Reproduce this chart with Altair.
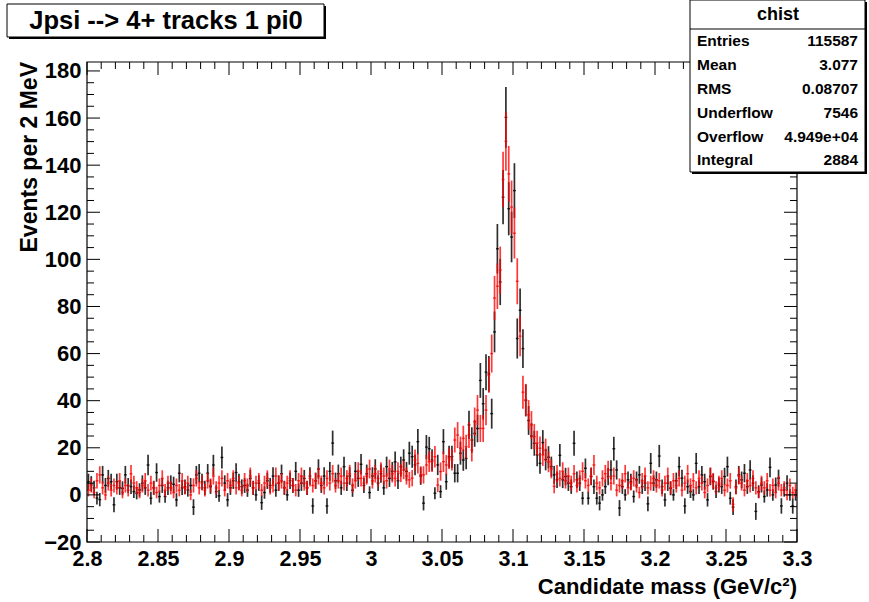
import altair as alt
import pandas as pd
import numpy as np

# ---- data (250 bins of 2 MeV, 2.80 - 3.30 GeV) ----
black_vals = [
    5.6, 4.7, 3, -1.4, -2, 8.5, 4, 7, 5.6, -4.2,
    5.6, 3, 2.8, 8.5, 4, 3.5, 1.4, 0.7, 2.1, 5,
    3, 12.7, -1.4, 3, 9.5, -0.7, 4, -0.7, 3, 5,
    4.5, -2.1, 9.2, 3, 3.5, 2.1, 4, -5.2, 8.5, 9.2,
    5.6, 3, 9.2, 3.5, 12.7, 1.4, -0.4, 15.9, 5, -2.1,
    3, 6, 9.5, 5.6, 3.5, 4, 2, 7, 3, 0,
    5, -3.3, 1, 6, 4, 8, 2, 5, 9, 3,
    0, 6, 4, 10, 2, 5, 7, 3, 8, -4.7,
    6, 11, 4, 8, -4.7, 10, 22, 6, 9, 3,
    12, 5, 8, 2, 10, 7, 13, 4, 9, 1,
    8, 11, 5, 9, 3, 12, 7, 10, 14, 6,
    12, 14.8, 10, 17.7, 16.2, 12.7, 22.6, 8, -3.5, 20.3,
    19.6, 14.8, 0.7, 12.7, 1.4, 22.6, 5.6, 16.2, 16.2, 9.2,
    9.2, 17.7, 14.8, 15.5, 29.7, 23.3, 26.1, 28.2, 48.6, 38.7,
    52.1, 51.4, 34.5, 69.2, 104.5, 90.4, 126.4, 160.3, 121.5, 109.5,
    129.2, 66.4, 78.4, 62.1, 40.1, 31.6, 25, 21.9, 17, 13.4,
    22.2, 15, 16, 12, 8.5, 6.4, 16.8, 6.4, 7.8, 5,
    3.5, 21.9, 6.4, 5, -1.4, 11.3, -1.4, 7.8, 3.5, -1.4,
    -3.5, 0, 3.5, 7.8, 10.6, 19.6, 10.6, -5.6, 3.5, 0,
    6.4, 5.6, -0.7, 6.4, 8.5, 3.5, 5, -3.8, 13.4, 5,
    6.4, 16.5, 3.5, -2.1, 5, 2.8, 0, 6, 12, 7.1,
    -4.7, 3.5, 1.4, 0, 13.4, 3.5, 8.5, 5.6, -2.1, 7.8,
    5.6, 1.4, 4.2, 3.5, 7.8, 12, -1.4, -5.2, 3.5, 8.5,
    6.4, 9.2, 3.5, 10.6, 5, -7, 1.4, 4.2, -0.7, 2.1,
    11.7, 0, 4.2, 7.1, -4.7, 2.1, 5, 0, -4.7, 0,
]
red_vals = [
    2, 4, 1, 6, 8.5, 3, 0, 5, 2, 4,
    3, 6, 1, 4, 2, 9, 5, 3, 1, 4,
    6, 2, 5, 3, 1, 4, 7, 2, 5, 3,
    1, 4, 2, 6, 3, 5, 0, 4, 7, 3,
    5, 2, 6, 4, 8, 3, 5, 7, 2, 6,
    4, 7, 3, 5, 2, 6, 4, 8, 3, 5,
    6, 2, 5, 7, 3, 4, 8, 5, 6, 3,
    5, 7, 4, 2, 6, 8, 5, 3, 7, 4,
    6, 8, 5, 3, 7, 5, 9, 4, 6, 8,
    5, 7, 9, 4, 6, 10, 7, 5, 8, 11,
    6, 9, 7, 10, 8, 6, 11, 9, 7, 10,
    9.2, 10.6, 8, 6.4, 7.1, 14.8, 13.4, 8.5, 8.5, 12.7,
    14.1, 14.1, 16.2, 4.2, 9.9, 14.1, 12.7, 15.5, 14.8, 23.3,
    25.4, 19.8, 24, 20.5, 25.4, 19.1, 31.1, 36, 28.2, 28.2,
    36, 50.8, 60, 83.6, 88.6, 95.4, 133.9, 150.1, 136.3, 122.2,
    111.1, 90.7, 67.4, 43.6, 40.4, 34, 29.7, 24.7, 22, 19.8,
    17, 19, 14, 11, 3.6, 9, 7, 10, 6, 8,
    5, 9, 4, 7, 10, 6, 4, 8, 12.7, 5,
    3, 7, 9, 10.6, 5, 8, 2, 4, 6, 9,
    3, 5, 7, 4, 1, 6, 8, 3, 5, 7,
    4, 6, 2, 5, 8, 3, 6, 4, 7, 2,
    5, 9, 4, 6, 3, 7, 5, 1, 4, 8,
    6, 3, 5, 7, 2, 4, 6, -4, 3, 8,
    5, 2, 6, 4, 7, 3, 1, 5, 3, 6,
    2, 4, 1, 5, 2, 3, 0, 4, 1, 2,
]
x_major = [2.8, 2.85, 2.9, 2.95, 3.0, 3.05, 3.1, 3.15, 3.2, 3.25, 3.3]
y_major = [-20, 0, 20, 40, 60, 80, 100, 120, 140, 160, 180]
title_text = "Jpsi --> 4+ tracks 1 pi0"
stats_title = "chist"
stats_names = ["Entries", "Mean", "RMS", "Underflow", "Overflow", "Integral"]
stats_values = ["115587", "3.077", "0.08707", "7546", "4.949e+04", "2884"]

XMIN, XMAX, NB = 2.8, 3.3, 250
YMIN, YMAX = -20, 183.8
W, H = 710, 480
FONT = "Liberation Sans"

bw = (XMAX - XMIN) / NB
idx = np.arange(NB)
lo_edge = XMIN + idx * bw
def make_df(vals, extra):
    v = np.array(vals, dtype=float)
    e = np.sqrt(np.abs(v) + extra)
    return pd.DataFrame({"m": lo_edge + bw / 2, "xl": lo_edge, "xh": lo_edge + bw,
                         "v": v, "lo": v - e, "hi": v + e})
dfb = make_df(black_vals, 6.0)
dfr = make_df(red_vals, 5.0)

xs = alt.Scale(domain=[XMIN, XMAX], nice=False, zero=False)
ys = alt.Scale(domain=[YMIN, YMAX], nice=False, zero=False)

xaxis = alt.Axis(values=x_major, format="~g", ticks=False, domain=False, grid=False,
                 labelFont=FONT, labelFontWeight="bold", labelFontSize=21.5,
                 labelColor="black", labelPadding=6, labelFlush=False,
                 labelOverlap=False, title=None)
yaxis = alt.Axis(values=y_major, format="d", ticks=False, domain=False, grid=False,
                 labelFont=FONT, labelFontWeight="bold", labelFontSize=22,
                 labelColor="black", labelPadding=6, labelOverlap=False, title=None)

def X(f):
    return alt.X(f, scale=xs, axis=xaxis)
def Y(f):
    return alt.Y(f, scale=ys, axis=yaxis)

x_minor = [round(XMIN + 0.01 * k, 3) for k in range(51)]
x_minor = [t for t in x_minor if all(abs(t - M) > 1e-6 for M in x_major)]
y_minor = [v for v in range(-20, 181, 5) if v % 20 != 0]

dxM = pd.DataFrame({"t": x_major}); dxm = pd.DataFrame({"t": x_minor})
dyM = pd.DataFrame({"t": y_major}); dym = pd.DataFrame({"t": y_minor})

def xt(df, y0, y1):
    return alt.Chart(df).mark_rule(color="black", strokeWidth=1).encode(
        x=X("t:Q"), y=alt.value(y0), y2=alt.value(y1))
def yt(df, x0, x1):
    return alt.Chart(df).mark_rule(color="black", strokeWidth=1).encode(
        y=Y("t:Q"), x=alt.value(x0), x2=alt.value(x1))

ticks = [xt(dxM, H, H - 13), xt(dxm, H, H - 7), xt(dxM, 0, 13), xt(dxm, 0, 7),
         yt(dyM, 0, 13), yt(dym, 0, 7), yt(dyM, W, W - 13), yt(dym, W, W - 7)]

def series(df, color, op):
    vbar = alt.Chart(df).mark_rule(color=color, strokeWidth=1.7, opacity=op, clip=True).encode(
        x=X("m:Q"), y=Y("lo:Q"), y2="hi:Q")
    hbar = alt.Chart(df).mark_rule(color=color, strokeWidth=1.4, opacity=op, clip=True).encode(
        x=X("xl:Q"), x2="xh:Q", y=Y("v:Q"))
    return [vbar, hbar]

one = pd.DataFrame({"a": [0]})
frame = alt.Chart(one).mark_rect(fill="transparent", stroke="black", strokeWidth=1.2).encode(
    x=alt.value(0), x2=alt.value(W), y=alt.value(0), y2=alt.value(H))

def box(x0, x1, y0, y1, sh=2):
    s = alt.Chart(one).mark_rect(fill="black").encode(
        x=alt.value(x0 + sh), x2=alt.value(x1 + sh), y=alt.value(y0 + sh), y2=alt.value(y1 + sh))
    b = alt.Chart(one).mark_rect(fill="white", stroke="black", strokeWidth=1).encode(
        x=alt.value(x0), x2=alt.value(x1), y=alt.value(y0), y2=alt.value(y1))
    return [s, b]

def label(txt, x, y, size, align="left", angle=0):
    kw = dict(angle=angle) if angle else {}
    return alt.Chart(pd.DataFrame({"t": [txt]})).mark_text(
        font=FONT, fontWeight="bold", fontSize=size, color="black", align=align,
        baseline="middle", **kw).encode(text="t:N", x=alt.value(x), y=alt.value(y))

# title box (pixel coords relative to plot origin at 87,62)
tbox = box(-80, 237, -58, -25)
ttext = label(title_text, 79, -41, 25.5, "center")

# stats box
sbox = box(603, 778, -62, 110)
sep = alt.Chart(one).mark_rule(color="black", strokeWidth=1).encode(
    x=alt.value(603), x2=alt.value(778), y=alt.value(-33))
stitle = label(stats_title, 691, -47, 18, "center")
row_y = [-21, 3, 27, 51, 75, 98]
stat_layers = []
for n, v, ry in zip(stats_names, stats_values, row_y):
    stat_layers.append(label(n, 610, ry, 15.5, "left"))
    stat_layers.append(label(v, 771, ry, 15.5, "right"))

xtitle = label("Candidate mass (GeV/c²)", W, 525, 22, "right")
ytitle = label("Events per 2 MeV", -57, 0, 23, "right", angle=270)

layers = (series(dfb, "black", 0.82) + series(dfr, "#ff0000", 0.78)
          + [frame] + ticks + tbox + [ttext] + sbox + [sep, stitle] + stat_layers
          + [xtitle, ytitle])

chart = alt.layer(*layers).properties(
    width=W, height=H, autosize=alt.AutoSizeParams(type="none"),
    padding={"left": 87, "top": 62, "right": 72, "bottom": 60},
    background="white",
).configure_view(strokeWidth=0)

chart.save("out.html", embed_options={"renderer": "svg", "actions": False})
